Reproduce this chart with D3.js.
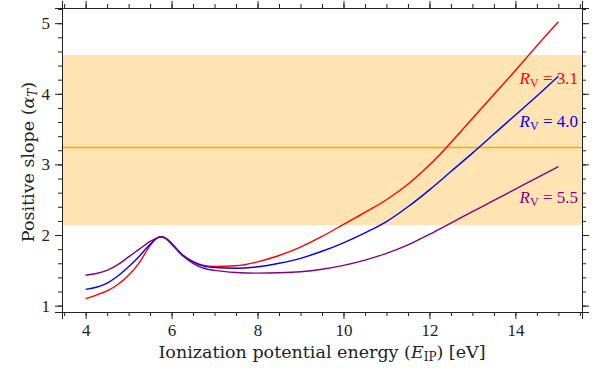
<!DOCTYPE html>
<html>
<head>
  <meta charset="utf-8">
  <script src="https://d3js.org/d3.v7.min.js"></script>
  <style>
    body { margin: 0; background: #fff; }
    svg { font-family: "Liberation Serif", serif; }
  </style>
</head>
<body>
<svg width="600" height="374"></svg>

<script>
// ionization potential energies (eV), shared by the three curves
var energy = [4.0, 4.25, 4.5, 4.75, 5.0, 5.25, 5.5, 5.625, 5.75, 5.875, 6.0, 6.25, 6.5, 6.75,
              7.0, 7.5, 8.0, 8.5, 9.0, 9.5, 10.0, 10.5, 11.0, 11.5, 12.0, 12.5, 13.0, 13.5,
              14.0, 14.5, 15.0];

// positive slope for each R_V
var slopeRv31 = [1.10, 1.15, 1.21, 1.30, 1.43, 1.61, 1.85, 1.94, 1.975, 1.95, 1.88, 1.72, 1.625, 1.57,
                 1.555, 1.565, 1.62, 1.71, 1.83, 1.98, 2.15, 2.32, 2.50, 2.72, 2.99, 3.31, 3.65, 3.99,
                 4.33, 4.68, 5.02];
var slopeRv40 = [1.23, 1.26, 1.32, 1.42, 1.55, 1.70, 1.87, 1.94, 1.975, 1.95, 1.88, 1.72, 1.62, 1.56,
                 1.54, 1.53, 1.55, 1.60, 1.67, 1.77, 1.89, 2.03, 2.19, 2.40, 2.64, 2.90, 3.16, 3.43,
                 3.70, 3.97, 4.25];
var slopeRv55 = [1.43, 1.455, 1.50, 1.58, 1.69, 1.80, 1.91, 1.95, 1.975, 1.945, 1.87, 1.71, 1.60, 1.53,
                 1.50, 1.47, 1.46, 1.465, 1.48, 1.515, 1.57, 1.645, 1.74, 1.86, 2.01, 2.17, 2.33, 2.49,
                 2.65, 2.81, 2.97];

var seriesNames = ["3.1", "4.0", "5.5"];
var seriesColors = ["#ff0000", "#0000ff", "#800080"];
var labelY = [4.22, 3.62, 2.54];

// observed band and its central value
var bandLow = 2.14, bandHigh = 4.55, bandMid = 3.24;

var xTicks = [4, 6, 8, 10, 12, 14];
var yTicks = [1, 2, 3, 4, 5];

var svg = d3.select("svg"),
    margin = {top: 8, right: 18, bottom: 62, left: 62},
    width = +svg.attr("width") - margin.left - margin.right,
    height = +svg.attr("height") - margin.top - margin.bottom,
    g = svg.append("g").attr("transform", "translate(" + margin.left + "," + margin.top + ")");

var x = d3.scaleLinear().domain([3.45, 15.55]).range([0, width]);
var y = d3.scaleLinear().domain([0.91, 5.215]).range([height, 0]);

// band + line
g.append("rect")
  .attr("x", 0)
  .attr("width", width)
  .attr("y", y(bandHigh))
  .attr("height", y(bandLow) - y(bandHigh))
  .attr("fill", "#ffe4b3");

g.append("line")
  .attr("x1", 0).attr("x2", width)
  .attr("y1", y(bandMid)).attr("y2", y(bandMid))
  .attr("stroke", "#ffa500")
  .attr("stroke-width", 1.5);

// curves
var allSeries = [slopeRv31, slopeRv40, slopeRv55];
var line = d3.line()
  .x(function(d, i) { return x(energy[i]); })
  .y(function(d) { return y(d); })
  .curve(d3.curveMonotoneX);

g.selectAll(".curve")
  .data(allSeries)
  .enter().append("path")
    .attr("class", "curve")
    .attr("fill", "none")
    .attr("stroke", function(d, i) { return seriesColors[i]; })
    .attr("stroke-width", 1.4)
    .attr("d", line);

// R_V labels
seriesNames.forEach(function(name, i) {
  var t = g.append("text")
    .attr("x", width - 4)
    .attr("y", y(labelY[i]))
    .attr("dy", "0.35em")
    .attr("text-anchor", "end")
    .attr("fill", seriesColors[i])
    .attr("font-size", 17);
  t.append("tspan").attr("font-style", "italic").text("R");
  t.append("tspan").attr("font-size", 12).attr("dy", 3).text("V");
  t.append("tspan").attr("dy", -3).text(" = " + name);
});

// axes, ticks outward on all four sides
var xMinor = d3.range(3.5, 15.51, 0.5);
var yMinor = d3.range(1, 5.21, 0.2);

g.append("g")
  .attr("transform", "translate(0," + height + ")")
  .call(d3.axisBottom(x).tickValues(xMinor).tickSize(4).tickFormat(""));
g.append("g")
  .attr("class", "xaxis")
  .attr("transform", "translate(0," + height + ")")
  .call(d3.axisBottom(x).tickValues(xTicks).tickSize(7).tickPadding(5).tickFormat(d3.format("d")));
g.append("g")
  .call(d3.axisTop(x).tickValues(xMinor).tickSize(4).tickFormat(""));
g.append("g")
  .call(d3.axisTop(x).tickValues(xTicks).tickSize(7).tickFormat(""));

g.append("g")
  .call(d3.axisLeft(y).tickValues(yMinor).tickSize(4).tickFormat(""));
g.append("g")
  .attr("class", "yaxis")
  .call(d3.axisLeft(y).tickValues(yTicks).tickSize(7).tickPadding(5).tickFormat(d3.format("d")));
g.append("g")
  .attr("transform", "translate(" + width + ",0)")
  .call(d3.axisRight(y).tickValues(yMinor).tickSize(4).tickFormat(""));
g.append("g")
  .attr("transform", "translate(" + width + ",0)")
  .call(d3.axisRight(y).tickValues(yTicks).tickSize(7).tickFormat(""));

g.selectAll(".domain").attr("stroke", "#222");
g.selectAll(".tick line").attr("stroke", "#222");
g.selectAll(".xaxis text, .yaxis text")
  .attr("font-family", "Liberation Serif, serif")
  .attr("font-size", 17)
  .attr("fill", "#222");

// axis labels
var xl = g.append("text")
  .attr("x", width / 2)
  .attr("y", height + 46)
  .attr("text-anchor", "middle")
  .attr("font-family", "DejaVu Serif, serif")
  .attr("font-size", 17.5)
  .attr("fill", "#222");
xl.append("tspan").text("Ionization potential energy (");
xl.append("tspan").attr("font-style", "italic").text("E");
xl.append("tspan").attr("font-size", 12).attr("dy", 3).text("IP");
xl.append("tspan").attr("dy", -3).text(") [eV]");

var yl = g.append("text")
  .attr("transform", "translate(" + (-28) + "," + (height / 2 + 2) + ") rotate(-90)")
  .attr("text-anchor", "middle")
  .attr("font-family", "DejaVu Serif, serif")
  .attr("font-size", 17.5)
  .attr("fill", "#222");
yl.append("tspan").text("Positive slope (");
yl.append("tspan").attr("font-style", "italic").text("\u03b1");
yl.append("tspan").attr("font-style", "italic").attr("font-size", 12).attr("dy", 3).text("T");
yl.append("tspan").attr("dy", -3).text(")");
</script>
</body>
</html>
